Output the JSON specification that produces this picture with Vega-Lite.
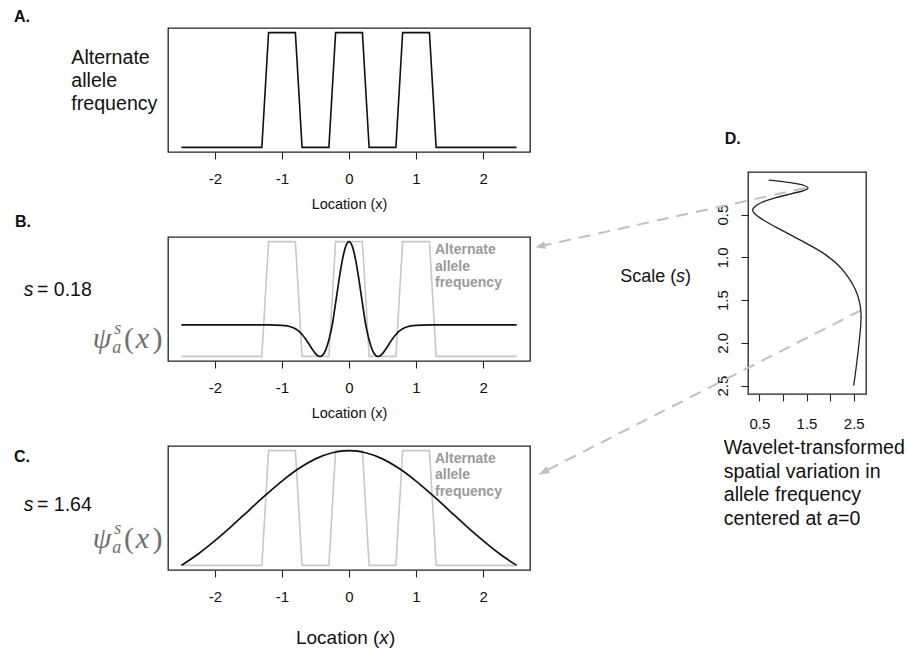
{
  "$schema": "https://vega.github.io/schema/vega-lite/v6.json",
  "padding": {"left": 13, "top": 8, "right": 2, "bottom": 2},
  "background": "white",
  "config": {
    "font": "Liberation Sans",
    "view": {"stroke": "#222", "strokeWidth": 1.3},
    "axis": {"grid": false, "domain": false, "tickColor": "#222", "tickSize": 7, "tickWidth": 1.1, "labelFont": "Liberation Sans", "labelFontSize": 15, "labelColor": "#111", "titleFont": "Liberation Sans", "titleFontWeight": "normal", "titleColor": "#111"}
  },
  "datasets": {
    "freq": [
      {"x": -2.5, "y": 0}, {"x": -1.3, "y": 0}, {"x": -1.2, "y": 1}, {"x": -0.8, "y": 1}, {"x": -0.7, "y": 0},
      {"x": -0.3, "y": 0}, {"x": -0.2, "y": 1}, {"x": 0.2, "y": 1}, {"x": 0.3, "y": 0}, {"x": 0.7, "y": 0},
      {"x": 0.8, "y": 1}, {"x": 1.2, "y": 1}, {"x": 1.3, "y": 0}, {"x": 2.5, "y": 0}
    ],
    "hatB": [
      {"x": -2.5, "y": 0.274}, {"x": -1.5, "y": 0.274}, {"x": -1.2, "y": 0.274}, {"x": -1.1, "y": 0.2733},
      {"x": -1.0, "y": 0.2709}, {"x": -0.95, "y": 0.268}, {"x": -0.9, "y": 0.2627}, {"x": -0.85, "y": 0.254},
      {"x": -0.8, "y": 0.2401}, {"x": -0.75, "y": 0.2194}, {"x": -0.7, "y": 0.1907}, {"x": -0.65, "y": 0.1536},
      {"x": -0.6, "y": 0.110}, {"x": -0.55, "y": 0.0644}, {"x": -0.5, "y": 0.0247}, {"x": -0.45, "y": 0.0018},
      {"x": -0.43, "y": 0.0}, {"x": -0.4, "y": 0.0077}, {"x": -0.35, "y": 0.0528}, {"x": -0.3, "y": 0.1425},
      {"x": -0.25, "y": 0.274}, {"x": -0.2, "y": 0.464}, {"x": -0.15, "y": 0.662}, {"x": -0.1, "y": 0.837},
      {"x": -0.05, "y": 0.957}, {"x": 0, "y": 1.0},
      {"x": 0.05, "y": 0.957}, {"x": 0.1, "y": 0.837}, {"x": 0.15, "y": 0.662}, {"x": 0.2, "y": 0.464},
      {"x": 0.25, "y": 0.274}, {"x": 0.3, "y": 0.1425}, {"x": 0.35, "y": 0.0528}, {"x": 0.4, "y": 0.0077},
      {"x": 0.43, "y": 0.0}, {"x": 0.45, "y": 0.0018}, {"x": 0.5, "y": 0.0247}, {"x": 0.55, "y": 0.0644},
      {"x": 0.6, "y": 0.110}, {"x": 0.65, "y": 0.1536}, {"x": 0.7, "y": 0.1907}, {"x": 0.75, "y": 0.2194},
      {"x": 0.8, "y": 0.2401}, {"x": 0.85, "y": 0.254}, {"x": 0.9, "y": 0.2627}, {"x": 0.95, "y": 0.268},
      {"x": 1.0, "y": 0.2709}, {"x": 1.1, "y": 0.2733}, {"x": 1.2, "y": 0.274}, {"x": 1.5, "y": 0.274}, {"x": 2.5, "y": 0.274}
    ],
    "gaussC": [
      {"x": -2.5, "y": 0.0}, {"x": -2.25, "y": 0.0997}, {"x": -2.0, "y": 0.2154}, {"x": -1.75, "y": 0.3423},
      {"x": -1.5, "y": 0.4758}, {"x": -1.25, "y": 0.6092}, {"x": -1.0, "y": 0.7345}, {"x": -0.75, "y": 0.8435},
      {"x": -0.5, "y": 0.928}, {"x": -0.25, "y": 0.9816}, {"x": 0, "y": 1.0}, {"x": 0.25, "y": 0.9816},
      {"x": 0.5, "y": 0.928}, {"x": 0.75, "y": 0.8435}, {"x": 1.0, "y": 0.7345}, {"x": 1.25, "y": 0.6092},
      {"x": 1.5, "y": 0.4758}, {"x": 1.75, "y": 0.3423}, {"x": 2.0, "y": 0.2154}, {"x": 2.25, "y": 0.0997}, {"x": 2.5, "y": 0.0}
    ],
    "curveD": [
      {"x": 0.698, "y": 0.098}, {"x": 1.192, "y": 0.13}, {"x": 1.439, "y": 0.157}, {"x": 1.531, "y": 0.188},
      {"x": 1.439, "y": 0.219}, {"x": 1.192, "y": 0.254}, {"x": 0.839, "y": 0.305}, {"x": 0.556, "y": 0.356},
      {"x": 0.415, "y": 0.403}, {"x": 0.359, "y": 0.442}, {"x": 0.387, "y": 0.481}, {"x": 0.486, "y": 0.527},
      {"x": 0.662, "y": 0.59}, {"x": 0.839, "y": 0.644}, {"x": 1.192, "y": 0.746}, {"x": 1.545, "y": 0.851},
      {"x": 1.898, "y": 0.968}, {"x": 2.181, "y": 1.096}, {"x": 2.393, "y": 1.241}, {"x": 2.534, "y": 1.377},
      {"x": 2.619, "y": 1.514}, {"x": 2.654, "y": 1.65}, {"x": 2.647, "y": 1.806}, {"x": 2.605, "y": 2.04},
      {"x": 2.555, "y": 2.274}, {"x": 2.499, "y": 2.5}
    ]
  },
  "spacing": 580,
  "bounds": "flush",
  "hconcat": [
    {
      "spacing": 85,
      "bounds": "flush",
      "vconcat": [
        {
          "width": 362, "height": 124,
          "encoding": {
            "x": {"field": "x", "type": "quantitative", "scale": {"domain": [-2.7, 2.7], "nice": false, "zero": false},
                  "axis": {"values": [-2, -1, 0, 1, 2], "labelExpr": "'' + datum.value", "title": "Location (x)", "titleFontSize": 14.5, "labelPadding": 12, "titlePadding": 11}},
            "y": {"field": "y", "type": "quantitative", "scale": {"domain": [-0.04, 1.04], "nice": false, "zero": false}, "axis": null}
          },
          "layer": [
            {"data": {"name": "freq"}, "mark": {"type": "line", "color": "#111", "strokeWidth": 1.6}},
            {"data": {"values": [{"x": -4.997, "y": 1.095, "t": "A."}]},
             "mark": {"type": "text", "align": "left", "baseline": "alphabetic", "fontSize": 16, "fontWeight": "bold", "color": "#111"},
             "encoding": {"text": {"field": "t"}}},
            {"data": {"values": [{"x": -4.142, "y": 0.7238, "t": "Alternate|allele|frequency"}]},
             "mark": {"type": "text", "align": "left", "baseline": "alphabetic", "fontSize": 19.6, "lineBreak": "|", "lineHeight": 22.8, "color": "#111"},
             "encoding": {"text": {"field": "t"}}}
          ]
        },
        {
          "width": 362, "height": 124,
          "encoding": {
            "x": {"field": "x", "type": "quantitative", "scale": {"domain": [-2.7, 2.7], "nice": false, "zero": false},
                  "axis": {"values": [-2, -1, 0, 1, 2], "labelExpr": "'' + datum.value", "title": "Location (x)", "titleFontSize": 14.5, "labelPadding": 12, "titlePadding": 11}},
            "y": {"field": "y", "type": "quantitative", "scale": {"domain": [-0.04, 1.04], "nice": false, "zero": false}, "axis": null}
          },
          "layer": [
            {"data": {"name": "freq"}, "mark": {"type": "line", "color": "#c8c8c8", "strokeWidth": 1.6}},
            {"data": {"name": "hatB"}, "mark": {"type": "line", "color": "#111", "strokeWidth": 1.7, "interpolate": "monotone"}},
            {"data": {"values": [{"x": -4.982, "y": 1.127, "t": "B."}]},
             "mark": {"type": "text", "align": "left", "baseline": "alphabetic", "fontSize": 16, "fontWeight": "bold", "color": "#111"},
             "encoding": {"text": {"field": "t"}}},
            {"data": {"values": [{"x": -4.853, "y": 0.526, "t": "s"}]},
             "mark": {"type": "text", "align": "left", "baseline": "alphabetic", "fontSize": 19.5, "fontStyle": "italic", "color": "#111"},
             "encoding": {"text": {"field": "t"}}},
            {"data": {"values": [{"x": -4.654, "y": 0.526, "t": "= 0.18"}]},
             "mark": {"type": "text", "align": "left", "baseline": "alphabetic", "fontSize": 19.5, "color": "#111"},
             "encoding": {"text": {"field": "t"}}},
            {"data": {"values": [{"x": -3.823, "y": 0.0775, "t": "ψ"}, {"x": -3.18, "y": 0.0775, "t": "x"}]},
             "mark": {"type": "text", "align": "left", "baseline": "alphabetic", "font": "Liberation Serif", "fontSize": 30, "fontStyle": "italic", "color": "#6e6e6e"},
             "encoding": {"text": {"field": "t"}}},
            {"data": {"values": [{"x": -3.355, "y": 0.0775, "t": "("}, {"x": -2.93, "y": 0.0775, "t": ")"}]},
             "mark": {"type": "text", "align": "left", "baseline": "alphabetic", "font": "Liberation Serif", "fontSize": 30, "color": "#6e6e6e"},
             "encoding": {"text": {"field": "t"}}},
            {"data": {"values": [{"x": -3.53, "y": 0.0278, "t": "a"}, {"x": -3.50, "y": 0.195, "t": "s"}]},
             "mark": {"type": "text", "align": "left", "baseline": "alphabetic", "font": "Liberation Serif", "fontSize": 18, "fontStyle": "italic", "color": "#6e6e6e"},
             "encoding": {"text": {"field": "t"}}},
            {"data": {"values": [{"x": 1.283, "y": 0.889, "t": "Alternate|allele|frequency"}]},
             "mark": {"type": "text", "align": "left", "baseline": "alphabetic", "fontSize": 14, "fontWeight": "bold", "lineBreak": "|", "lineHeight": 16.5, "color": "#9a9a9a"},
             "encoding": {"text": {"field": "t"}}}
          ]
        },
        {
          "width": 362, "height": 124,
          "encoding": {
            "x": {"field": "x", "type": "quantitative", "scale": {"domain": [-2.7, 2.7], "nice": false, "zero": false},
                  "axis": {"values": [-2, -1, 0, 1, 2], "labelExpr": "'' + datum.value", "title": null, "labelPadding": 12}},
            "y": {"field": "y", "type": "quantitative", "scale": {"domain": [-0.04, 1.04], "nice": false, "zero": false}, "axis": null}
          },
          "layer": [
            {"data": {"name": "freq"}, "mark": {"type": "line", "color": "#c8c8c8", "strokeWidth": 1.6}},
            {"data": {"name": "gaussC"}, "mark": {"type": "line", "color": "#111", "strokeWidth": 1.7, "interpolate": "monotone"}},
            {"data": {"values": [{"x": -4.997, "y": 0.903, "t": "C."}]},
             "mark": {"type": "text", "align": "left", "baseline": "alphabetic", "fontSize": 16, "fontWeight": "bold", "color": "#111"},
             "encoding": {"text": {"field": "t"}}},
            {"data": {"values": [{"x": -4.853, "y": 0.4738, "t": "s"}]},
             "mark": {"type": "text", "align": "left", "baseline": "alphabetic", "fontSize": 19.5, "fontStyle": "italic", "color": "#111"},
             "encoding": {"text": {"field": "t"}}},
            {"data": {"values": [{"x": -4.654, "y": 0.4738, "t": "= 1.64"}]},
             "mark": {"type": "text", "align": "left", "baseline": "alphabetic", "fontSize": 19.5, "color": "#111"},
             "encoding": {"text": {"field": "t"}}},
            {"data": {"values": [{"x": -3.823, "y": 0.1558, "t": "ψ"}, {"x": -3.18, "y": 0.1558, "t": "x"}]},
             "mark": {"type": "text", "align": "left", "baseline": "alphabetic", "font": "Liberation Serif", "fontSize": 30, "fontStyle": "italic", "color": "#6e6e6e"},
             "encoding": {"text": {"field": "t"}}},
            {"data": {"values": [{"x": -3.355, "y": 0.1558, "t": "("}, {"x": -2.93, "y": 0.1558, "t": ")"}]},
             "mark": {"type": "text", "align": "left", "baseline": "alphabetic", "font": "Liberation Serif", "fontSize": 30, "color": "#6e6e6e"},
             "encoding": {"text": {"field": "t"}}},
            {"data": {"values": [{"x": -3.53, "y": 0.106, "t": "a"}, {"x": -3.50, "y": 0.273, "t": "s"}]},
             "mark": {"type": "text", "align": "left", "baseline": "alphabetic", "font": "Liberation Serif", "fontSize": 18, "fontStyle": "italic", "color": "#6e6e6e"},
             "encoding": {"text": {"field": "t"}}},
            {"data": {"values": [{"x": 1.283, "y": 0.8945, "t": "Alternate|allele|frequency"}]},
             "mark": {"type": "text", "align": "left", "baseline": "alphabetic", "fontSize": 14, "fontWeight": "bold", "lineBreak": "|", "lineHeight": 16.5, "color": "#9a9a9a"},
             "encoding": {"text": {"field": "t"}}},
            {"data": {"values": [{"x": -0.791, "y": -0.687, "t": "Location ("}, {"x": 0.595, "y": -0.687, "t": ")"}]},
             "mark": {"type": "text", "align": "left", "baseline": "alphabetic", "fontSize": 19, "color": "#111"},
             "encoding": {"text": {"field": "t"}}},
            {"data": {"values": [{"x": 0.453, "y": -0.687, "t": "x"}]},
             "mark": {"type": "text", "align": "left", "baseline": "alphabetic", "fontSize": 19, "fontStyle": "italic", "color": "#111"},
             "encoding": {"text": {"field": "t"}}}
          ]
        }
      ]
    },
    {
      "spacing": 143,
      "bounds": "flush",
      "vconcat": [
        {"width": 118, "height": 1, "data": {"values": [{"x": 0}]}, "mark": {"type": "point", "opacity": 0}, "encoding": {}, "view": {"stroke": null}},
        {
          "width": 118, "height": 222,
          "encoding": {
            "x": {"field": "x", "type": "quantitative", "scale": {"domain": [0.26, 2.76], "nice": false, "zero": false},
                  "axis": {"values": [0.5, 1, 1.5, 2, 2.5], "labelExpr": "datum.value == 1 || datum.value == 2 ? '' : format(datum.value, '.1f')", "title": null, "labelPadding": 15}},
            "y": {"field": "y", "type": "quantitative", "scale": {"domain": [0.002, 2.598], "nice": false, "zero": false, "reverse": true},
                  "axis": {"values": [0.5, 1, 1.5, 2, 2.5], "format": ".1f", "labelAngle": 270, "labelAlign": "center", "labelBaseline": "bottom", "labelPadding": 11, "title": null}}
          },
          "layer": [
            {"data": {"values": [{"x": 1.475, "y": 0.189, "x2": -4.246, "y2": 0.882}, {"x": 2.655, "y": 1.619, "x2": -4.161, "y2": 3.535}]},
             "mark": {"type": "rule", "color": "#c0c0c0", "strokeWidth": 2, "strokeDash": [12, 8]},
             "encoding": {"x2": {"field": "x2"}, "y2": {"field": "y2"}}},
            {"data": {"values": [{"x": -4.246, "y": 0.882}]},
             "mark": {"type": "point", "shape": "M0,0L-1,-0.4L-1,0.4Z", "size": 400, "filled": true, "opacity": 1, "color": "#c0c0c0", "angle": 167.6}},
            {"data": {"values": [{"x": -4.161, "y": 3.535}]},
             "mark": {"type": "point", "shape": "M0,0L-1,-0.4L-1,0.4Z", "size": 400, "filled": true, "opacity": 1, "color": "#c0c0c0", "angle": 153}},
            {"data": {"name": "curveD"}, "mark": {"type": "line", "color": "#222", "strokeWidth": 1.3, "interpolate": "catmull-rom"},
             "encoding": {"order": {"field": "y", "type": "quantitative"}}},
            {"data": {"values": [{"x": -0.233, "y": -0.326, "t": "D."}]},
             "mark": {"type": "text", "align": "left", "baseline": "alphabetic", "fontSize": 16, "fontWeight": "bold", "color": "#111"},
             "encoding": {"text": {"field": "t"}}},
            {"data": {"values": [{"x": -2.445, "y": 1.292, "t": "Scale ("}, {"x": -1.074, "y": 1.292, "t": ")"}]},
             "mark": {"type": "text", "align": "left", "baseline": "alphabetic", "fontSize": 18, "color": "#111"},
             "encoding": {"text": {"field": "t"}}},
            {"data": {"values": [{"x": -1.265, "y": 1.292, "t": "s"}]},
             "mark": {"type": "text", "align": "left", "baseline": "alphabetic", "fontSize": 18, "fontStyle": "italic", "color": "#111"},
             "encoding": {"text": {"field": "t"}}},
            {"data": {"values": [{"x": -0.254, "y": 3.303, "t": "Wavelet-transformed|spatial variation in|allele frequency"}]},
             "mark": {"type": "text", "align": "left", "baseline": "alphabetic", "fontSize": 19.6, "lineBreak": "|", "lineHeight": 23.5, "color": "#111"},
             "encoding": {"text": {"field": "t"}}},
            {"data": {"values": [{"x": -0.254, "y": 4.128, "t": "centered at"}, {"x": 2.169, "y": 4.128, "t": "=0"}]},
             "mark": {"type": "text", "align": "left", "baseline": "alphabetic", "fontSize": 19.6, "color": "#111"},
             "encoding": {"text": {"field": "t"}}},
            {"data": {"values": [{"x": 1.939, "y": 4.128, "t": "a"}]},
             "mark": {"type": "text", "align": "left", "baseline": "alphabetic", "fontSize": 19.6, "fontStyle": "italic", "color": "#111"},
             "encoding": {"text": {"field": "t"}}}
          ]
        }
      ]
    }
  ]
}
